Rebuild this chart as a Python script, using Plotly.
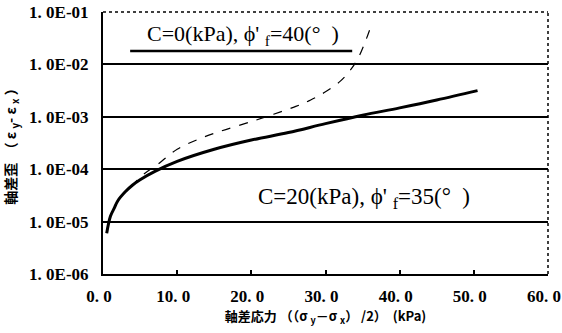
import plotly.graph_objects as go

# C=20 kPa, phi'f=35 deg (thick solid)
x_c20 = [0.5, 1.0, 1.5, 2.0, 3.0, 4.0, 5.0, 7.0, 10.0, 15.0, 20.0, 25.0, 30.0, 35.0, 40.0, 45.0, 50.5]
y_c20 = [6.0e-6, 1.26e-5, 1.78e-5, 2.5e-5, 3.7e-5, 5.0e-5, 6.3e-5, 9.1e-5, 1.41e-4, 2.4e-4, 3.6e-4, 5.0e-4, 7.4e-4, 1.07e-3, 1.48e-3, 2.09e-3, 3.16e-3]

# C=0 kPa, phi'f=40 deg (thin dashed)
x_c0 = [0.5, 1.0, 1.5, 2.0, 3.0, 4.0, 5.0, 6.4, 7.0, 10.0, 13.0, 16.0, 20.0, 23.0, 26.0, 28.0, 30.0, 32.0, 33.5, 34.5, 35.4, 36.3]
y_c0 = [6.0e-6, 1.26e-5, 1.78e-5, 2.5e-5, 3.7e-5, 5.0e-5, 7.0e-5, 1.0e-4, 1.12e-4, 2.4e-4, 3.8e-4, 5.4e-4, 8.1e-4, 1.12e-3, 1.58e-3, 2.09e-3, 3.0e-3, 4.8e-3, 8.3e-3, 1.41e-2, 2.8e-2, 6.3e-2]

x_ticks = [0, 10, 20, 30, 40, 50, 60]
x_ticktext = ["0. 0", "10. 0", "20. 0", "30. 0", "40. 0", "50. 0", "60. 0"]
y_ticks = [1e-6, 1e-5, 1e-4, 1e-3, 1e-2, 1e-1]
y_ticktext = ["1. 0E-06", "1. 0E-05", "1. 0E-04", "1. 0E-03", "1. 0E-02", "1. 0E-01"]

tick_font = dict(family="Liberation Sans Narrow", size=17, color="black", weight="bold")
title_font = dict(family="Noto Sans CJK JP", size=13, color="black", weight="bold")

fig = go.Figure()
fig.add_trace(go.Scatter(x=x_c0, y=y_c0, mode="lines",
                         line=dict(color="black", width=1.2, dash="dash", shape="spline"),
                         showlegend=False))
fig.add_trace(go.Scatter(x=x_c20, y=y_c20, mode="lines",
                         line=dict(color="black", width=3, shape="spline"),
                         showlegend=False))

fig.update_layout(
    width=562, height=333,
    margin=dict(l=103, r=14, t=12, b=59),
    plot_bgcolor="white", paper_bgcolor="white",
    xaxis=dict(range=[0, 60], tickvals=x_ticks, ticktext=x_ticktext, automargin=False,
               ticklabeloverflow="allow", ticklabelshift=-4,
               showgrid=False, zeroline=False,
               showline=True, linecolor="black", linewidth=2,
               ticks="inside", ticklen=4, tickcolor="black", tickwidth=1.5,
               tickfont=tick_font, ticklabelstandoff=6,
               title=dict(text="軸差応力 （（σ <sub>y</sub>－σ <sub>x</sub>） /2）  (kPa)",
                          font=title_font, standoff=2)),
    yaxis=dict(type="log", range=[-6, -1], tickvals=y_ticks, ticktext=y_ticktext, automargin=False,
               ticklabeloverflow="allow",
               showgrid=True, gridcolor="black", gridwidth=1.8,
               zeroline=False, showline=True, linecolor="black", linewidth=2,
               ticks="", tickfont=tick_font, ticklabelstandoff=9,
               title=dict(text="軸差歪  （ ε <sub>y</sub>- ε <sub>x</sub> ）",
                          font=dict(family="Noto Sans CJK JP", size=14, color="black", weight="bold"),
                          standoff=10)),
    shapes=[
        dict(type="line", xref="paper", yref="paper", x0=0, x1=1, y0=1, y1=1,
             line=dict(color="black", width=1.5, dash="dot")),
        dict(type="line", xref="paper", yref="paper", x0=1, x1=1, y0=0, y1=1,
             line=dict(color="black", width=1.5, dash="dot")),
        dict(type="line", xref="paper", yref="paper", x0=0.061, x1=0.56, y0=0.851, y1=0.851,
             line=dict(color="black", width=2.5)),
    ],
    annotations=[
        dict(text="C=0(kPa), ϕ' <sub>f</sub>=40(°  )", xref="paper", yref="paper",
             x=0.315, y=0.912, xanchor="center", yanchor="middle", showarrow=False,
             font=dict(family="Liberation Serif", size=22, color="black")),
        dict(text="C=20(kPa), ϕ' <sub>f</sub>=35(°  )", xref="paper", yref="paper",
             x=0.587, y=0.29, xanchor="center", yanchor="middle", showarrow=False,
             font=dict(family="Liberation Serif", size=23, color="black")),
    ],
)

fig.write_html("out.html", post_script="document.body.style.margin='0';",
               config={"displayModeBar": False})
